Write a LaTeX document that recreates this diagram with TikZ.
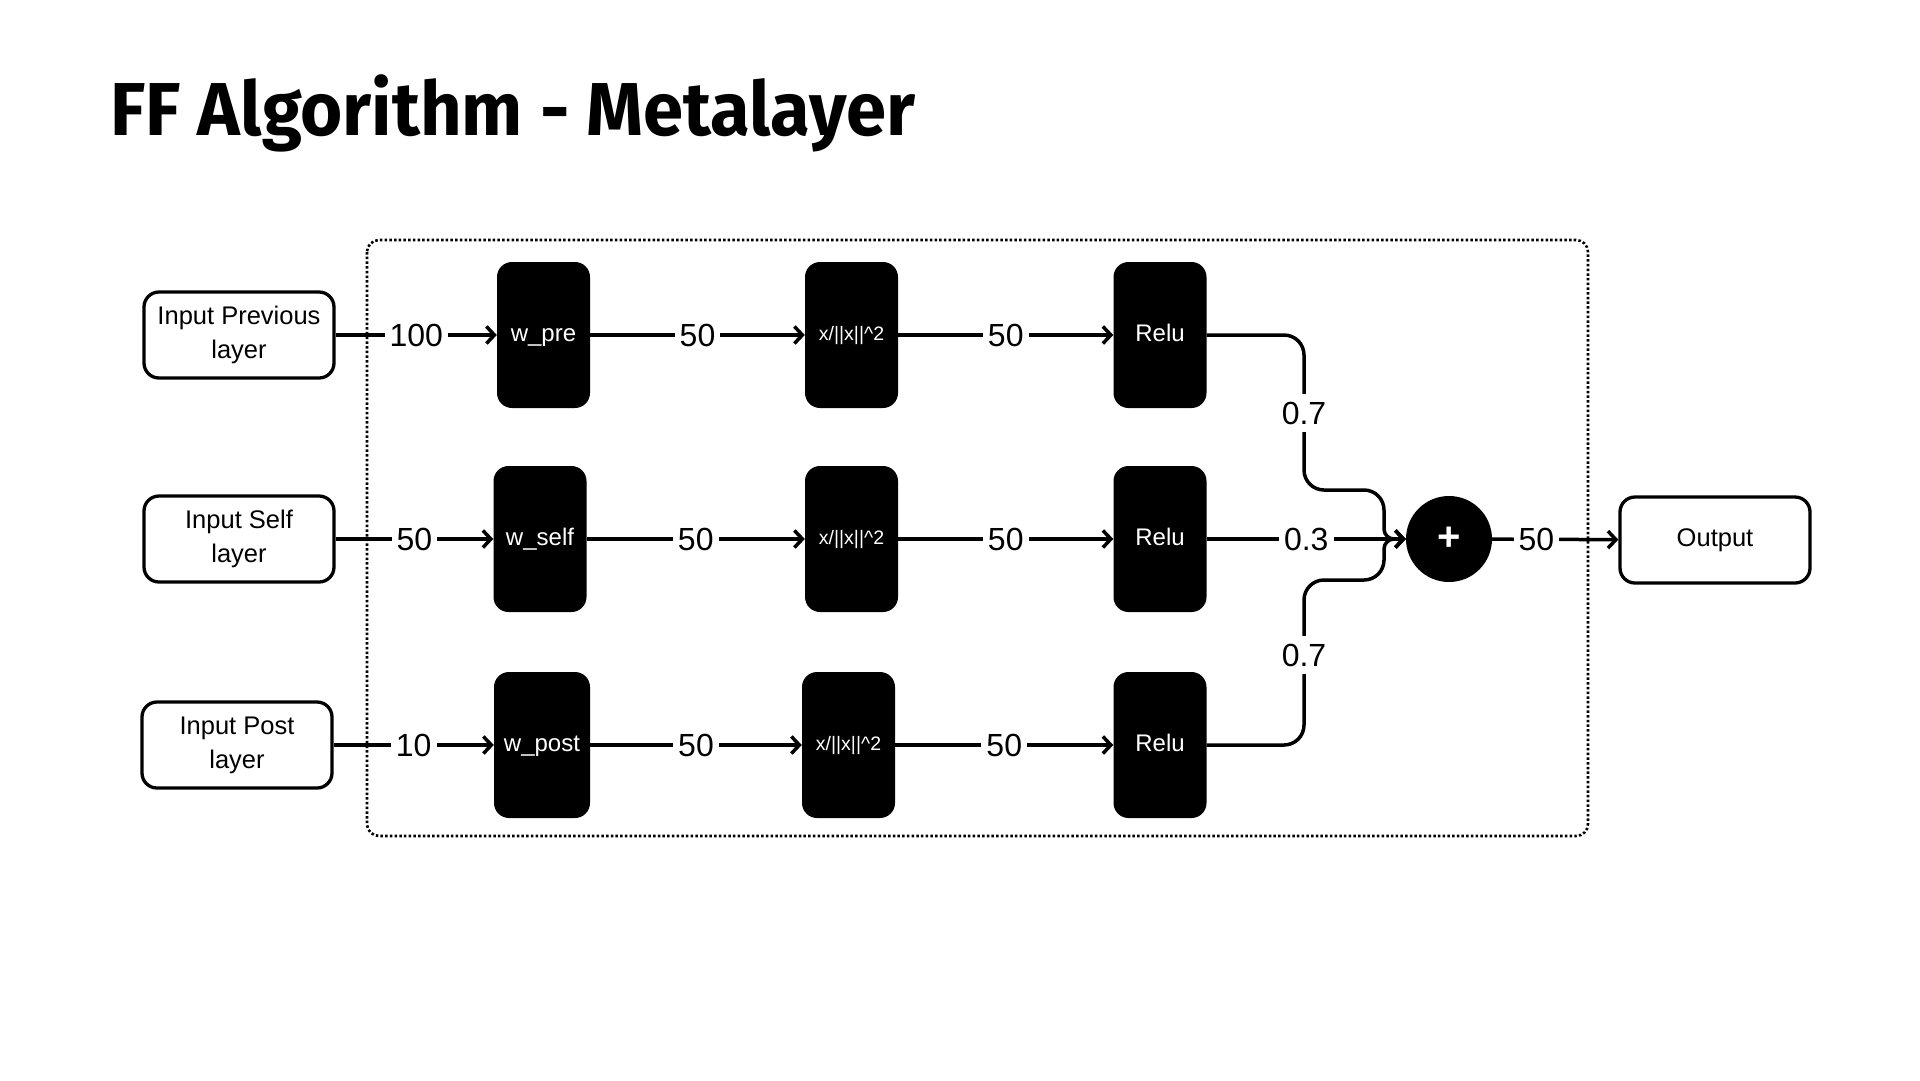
\documentclass[tikz,border=0pt]{standalone}
\usepackage{fontspec}
\setmainfont{Liberation Sans}
\newfontfamily\titlefont{Fira Sans}
\usetikzlibrary{arrows.meta}
\begin{document}
\begin{tikzpicture}[x=1pt,y=-1pt,
  inbox/.style={draw, line width=3.3pt, rounded corners=15pt, minimum width=190pt, minimum height=86pt, align=center, inner sep=0pt, font=\fontsize{25.5}{34}\selectfont},
  blk/.style={fill=black, rounded corners=15pt, minimum width=93pt, minimum height=146pt, inner sep=0pt, text=white, text height=17pt, text depth=5pt, font=\fontsize{24}{28}\selectfont},
  nrm/.style={blk, text height=14pt, text depth=4pt, font=\fontsize{19.5}{22}\selectfont},
  conn/.style={line width=3.5pt, -{Straight Barb[length=8pt,width=17pt,line width=3.5pt]}},
  lab/.style={fill=white, font=\fontsize{32}{36}\selectfont, inner sep=5pt},
  wlab/.style={fill=white, font=\fontsize{32}{36}\selectfont, inner xsep=2pt, inner ysep=8pt}]
\useasboundingbox[fill=white] (0,0) rectangle (1920,1080);
% title
\node[anchor=base west, inner sep=0pt] (title) at (110,135) {\scalebox{0.965}[1]{\titlefont\bfseries\fontsize{75}{80}\selectfont FF Algorithm - Metalayer}};
% container
\draw[line width=2.6pt, dash pattern=on 2.5pt off 2.2pt, rounded corners=12pt] (367,240) rectangle (1588,836);
% inputs
\node[inbox] (in1) at (239,335) {Input Previous\\layer};
\node[inbox] (in2) at (239,539) {Input Self\\layer};
\node[inbox] (in3) at (237,745) {Input Post\\layer};
% row 1
\node[blk] (w1) at (543.5,335) {w\_pre};
\node[nrm] (n1) at (851.5,335) {x/||x||\^{}2};
\node[blk] (r1) at (1160,335) {Relu};
% row 2
\node[blk] (w2) at (540,539) {w\_self};
\node[nrm] (n2) at (851.5,539) {x/||x||\^{}2};
\node[blk] (r2) at (1160,539) {Relu};
% row 3
\node[blk, minimum width=96pt] (w3) at (542,745) {w\_post};
\node[nrm] (n3) at (848.5,745) {x/||x||\^{}2};
\node[blk] (r3) at (1160,745) {Relu};
% sum and output
\node[circle, fill=black, minimum size=86pt, inner sep=0pt, text=white, font=\fontsize{40}{40}\selectfont\bfseries] (plus) at (1449,539) {+};
\node[inbox] (out) at (1715,540) {Output};
% connectors
\draw[conn] (in1) -- node[lab]{100} (w1);
\draw[conn] (w1) -- node[lab]{50} (n1);
\draw[conn] (n1) -- node[lab]{50} (r1);
\draw[conn] (in2) -- node[lab]{50} (w2);
\draw[conn] (w2) -- node[lab]{50} (n2);
\draw[conn] (n2) -- node[lab]{50} (r2);
\draw[conn] (in3) -- node[lab]{10} (w3);
\draw[conn] (w3) -- node[lab]{50} (n3);
\draw[conn] (n3) -- node[lab]{50} (r3);
\draw[conn] (r2) -- node[lab]{0.3} (plus);
\draw[conn, rounded corners=20pt] (r1.east) -- (1304,335) -- (1304,490) -- (1384,490) [rounded corners=10pt] -- (1384,539) -- (plus.west);
\draw[conn, rounded corners=20pt] (r3.east) -- (1304,745) -- (1304,580) -- (1384,580) [rounded corners=10pt] -- (1384,539) -- (plus.west);
\node[wlab] (l1) at (1304,413) {0.7};
\node[wlab] (l3) at (1304,655) {0.7};
\draw[conn] (plus) -- node[lab, pos=0.35]{50} (out);
\end{tikzpicture}
\end{document}
